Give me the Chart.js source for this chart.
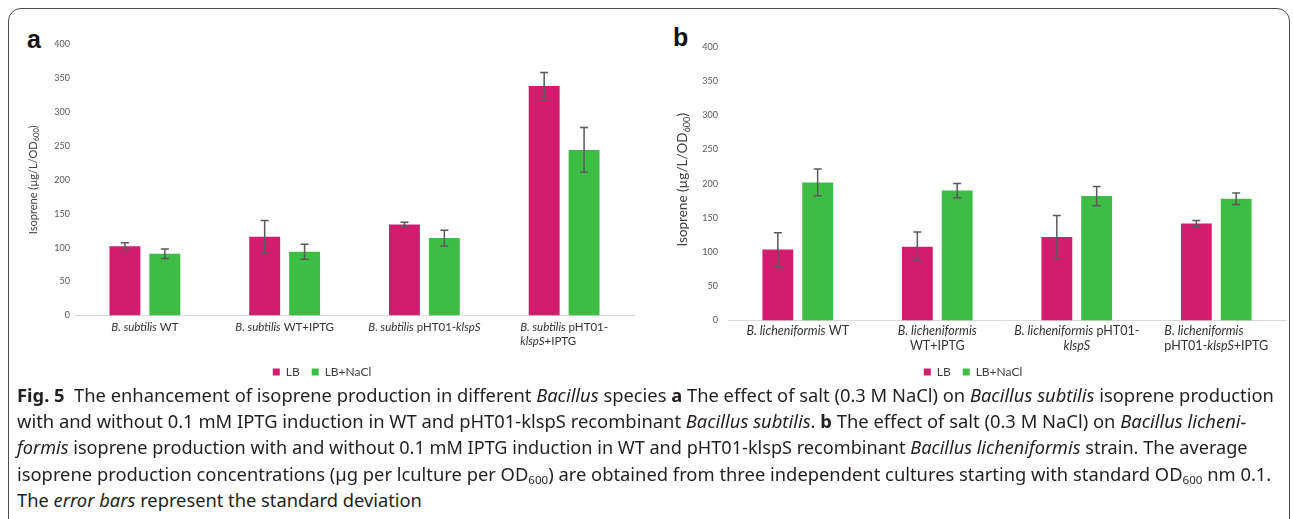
<!DOCTYPE html>
<html>
<head>
<meta charset="utf-8">
<script src="https://cdn.jsdelivr.net/npm/chart.js@4.4.1/dist/chart.umd.min.js"></script>
<style>
  html, body { margin: 0; padding: 0; background: #fff; }
  body { width: 1293px; height: 519px; position: relative; overflow: hidden; font-family: "Noto Sans", sans-serif; }
  .frame { position: absolute; left: 8px; top: 8px; width: 1282px; height: 540px; border: 1.5px solid #4a4a4a; border-radius: 13px; box-sizing: border-box; }
  .panel-letter { position: absolute; font-family: "Liberation Sans", Arial, sans-serif; font-weight: bold; font-size: 25px; color: #111; line-height: 1; }
  .chart-box { position: absolute; }
  .cap { position: absolute; left: 17px; white-space: nowrap; font-size: 17.5px; line-height: 22px; color: #231f20; transform-origin: 0 50%; }
  .cap i { font-style: italic; }
  .cap b { font-weight: bold; }
  .cap sub { font-size: 11px; vertical-align: -3px; line-height: 0; }
</style>
</head>
<body>
<div class="frame"></div>
<div class="panel-letter" style="left:27px; top:27px;">a</div>
<div class="panel-letter" style="left:673px; top:25px;">b</div>

<div class="chart-box" style="left:10px; top:20px; width:632px; height:368px;"><canvas id="chartA" width="632" height="368"></canvas></div>
<div class="chart-box" style="left:660px; top:20px; width:630px; height:368px;"><canvas id="chartB" width="630" height="368"></canvas></div>

<div class="cap" data-w="1257" style="top:384px;"><b>Fig. 5</b>&nbsp; The enhancement of isoprene production in different <i>Bacillus</i> species <b>a</b> The effect of salt (0.3 M NaCl) on <i>Bacillus subtilis</i> isoprene production</div>
<div class="cap" data-w="1229" style="top:410px;">with and without 0.1 mM IPTG induction in WT and pHT01-klspS recombinant <i>Bacillus subtilis</i>. <b>b</b> The effect of salt (0.3 M NaCl) on <i>Bacillus licheni-</i></div>
<div class="cap" data-w="1231" style="top:436px;"><i>formis</i> isoprene production with and without 0.1 mM IPTG induction in WT and pHT01-klspS recombinant <i>Bacillus licheniformis</i> strain. The average</div>
<div class="cap" data-w="1254" style="top:463px;">isoprene production concentrations (µg per lculture per OD<sub>600</sub>) are obtained from three independent cultures starting with standard OD<sub>600</sub> nm 0.1.</div>
<div class="cap" style="top:489px;">The <i>error bars</i> represent the standard deviation</div>

<script>
// ---- data ----
const seriesNames = ["LB", "LB+NaCl"];
const yTickValues = [0, 50, 100, 150, 200, 250, 300, 350, 400];
const yTitleText = "Isoprene (µg/L/OD";
const yTitleSub = "600";

// Panel a: B. subtilis ("*...*" = italic, "|" = line break)
const categoriesA = ["*B. subtilis* WT", "*B. subtilis* WT+IPTG", "*B. subtilis* pHT01-*klspS*", "*B. subtilis* pHT01-|*klspS*+IPTG"];
const lbA = [102, 116, 134, 338];
const lbErrA = [5, 24, 3.5, 20];
const naclA = [91, 94, 114, 244];
const naclErrA = [7, 11, 11.5, 33];

// Panel b: B. licheniformis
const categoriesB = ["*B. licheniformis* WT", "*B. licheniformis*|WT+IPTG", "*B. licheniformis* pHT01-|*klspS*", "*B. licheniformis*|pHT01-*klspS*+IPTG"];
const lbB = [104, 108, 122, 142];
const lbErrB = [24.5, 21.5, 31.5, 4.3];
const naclB = [202, 190, 182, 178];
const naclErrB = [19.5, 10.5, 14, 8.5];

// ---- styling ----
const LB_COLOR = "#d11d6b";
const NACL_COLOR = "#3ebd46";
const FONT = "Lato, 'Noto Sans', sans-serif";

function parseRich(str) {
  return str.split("|").map(line => {
    const segs = [];
    line.split("*").forEach((t, i) => { if (t) segs.push({ t, it: i % 2 === 1 }); });
    return segs;
  });
}
function plain(str) { return str.replace(/\*/g, "").replace("|", " "); }
function fontStr(italic, size) { return (italic ? "italic " : "") + size + "px " + FONT; }

// category labels with mixed italic/roman runs
const richLabels = {
  id: "richLabels",
  afterDraw(chart, args, o) {
    const ctx = chart.ctx, xs = chart.scales.x;
    ctx.save();
    ctx.fillStyle = o.color;
    ctx.textBaseline = "middle";
    ctx.textAlign = "left";
    o.labels.forEach((lab, i) => {
      const lines = parseRich(lab);
      const cx = xs.getPixelForValue(i);
      const widths = lines.map(l => l.reduce((w, s) => { ctx.font = fontStr(s.it, o.size); return w + ctx.measureText(s.t).width; }, 0));
      const blockW = Math.max(...widths);
      lines.forEach((l, j) => {
        let x = o.leftAligned.includes(i) ? cx - blockW / 2 : cx - widths[j] / 2;
        const y = chart.chartArea.bottom + o.offset + j * o.lineHeight;
        l.forEach(s => { ctx.font = fontStr(s.it, o.size); ctx.fillText(s.t, x, y); x += ctx.measureText(s.t).width; });
      });
    });
    ctx.restore();
  }
};

// rotated y-axis title with subscript
const yTitle = {
  id: "yTitle",
  afterDraw(chart, args, o) {
    const ctx = chart.ctx, ca = chart.chartArea;
    const subSize = o.size * 0.68;
    ctx.save();
    ctx.fillStyle = o.color;
    ctx.textBaseline = "middle";
    ctx.textAlign = "left";
    ctx.font = o.size + "px " + FONT;
    const w1 = ctx.measureText(yTitleText).width;
    const w3 = ctx.measureText(")").width;
    ctx.font = subSize + "px " + FONT;
    const w2 = ctx.measureText(yTitleSub).width;
    const total = w1 + w2 + w3;
    ctx.translate(o.x, (ca.top + ca.bottom) / 2 + o.dy);
    ctx.rotate(-Math.PI / 2);
    let x = -total / 2;
    ctx.font = o.size + "px " + FONT;
    ctx.fillText(yTitleText, x, 0); x += w1;
    ctx.font = subSize + "px " + FONT;
    ctx.fillText(yTitleSub, x, o.size * 0.3); x += w2;
    ctx.font = o.size + "px " + FONT;
    ctx.fillText(")", x, 0);
    ctx.restore();
  }
};

// standard deviation whiskers
const errorBars = {
  id: "errorBars",
  afterDatasetsDraw(chart) {
    const ctx = chart.ctx, ys = chart.scales.y;
    ctx.save();
    ctx.strokeStyle = "#5a5a5a";
    ctx.lineWidth = 1.5;
    chart.data.datasets.forEach((ds, d) => {
      chart.getDatasetMeta(d).data.forEach((bar, i) => {
        const v = ds.data[i], e = ds.errors[i];
        const yT = ys.getPixelForValue(v + e), yB = ys.getPixelForValue(v - e);
        ctx.beginPath();
        ctx.moveTo(bar.x, yT); ctx.lineTo(bar.x, yB);
        ctx.moveTo(bar.x - 4, yT); ctx.lineTo(bar.x + 4, yT);
        ctx.moveTo(bar.x - 4, yB); ctx.lineTo(bar.x + 4, yB);
        ctx.stroke();
      });
    });
    ctx.restore();
  }
};

function makeChart(id, cfg) {
  return new Chart(document.getElementById(id), {
    type: "bar",
    data: {
      labels: cfg.categories.map(plain),
      datasets: [
        { label: seriesNames[0], data: cfg.lb, errors: cfg.lbErr, backgroundColor: LB_COLOR, categoryPercentage: 0.571, barPercentage: 0.775 },
        { label: seriesNames[1], data: cfg.nacl, errors: cfg.naclErr, backgroundColor: NACL_COLOR, categoryPercentage: 0.571, barPercentage: 0.775 }
      ]
    },
    plugins: [errorBars, richLabels, yTitle],
    options: {
      responsive: false,
      animation: false,
      devicePixelRatio: 1,
      layout: { padding: { top: cfg.padTop, right: cfg.padRight, left: 0, bottom: 0 } },
      plugins: {
        tooltip: { enabled: false },
        legend: {
          position: "bottom",
          labels: { boxWidth: 7, boxHeight: 7, padding: 12, color: "#404040", font: { family: FONT, size: 12 } }
        },
        richLabels: { labels: cfg.categories, size: cfg.labelSize, offset: cfg.labelOffset, lineHeight: cfg.labelLine, color: "#333", leftAligned: [3] },
        yTitle: { x: cfg.titleX, dy: cfg.titleDy, size: cfg.titleSize, color: "#404040" }
      },
      scales: {
        x: {
          grid: { display: false, drawTicks: false },
          border: { display: true, color: "#d9d9d9", width: 1 },
          ticks: { display: false },
          afterFit(s) { s.height = cfg.xHeight; }
        },
        y: {
          min: 0, max: 400,
          afterBuildTicks(s) { s.ticks = yTickValues.map(v => ({ value: v })); },
          ticks: { color: "#595959", padding: cfg.tickPad, font: { family: FONT, size: 9 } },
          grid: { display: false, drawTicks: false },
          border: { display: false },
          afterFit(s) { s.width = cfg.yWidth; }
        }
      }
    }
  });
}

makeChart("chartA", {
  categories: categoriesA, lb: lbA, lbErr: lbErrA, nacl: naclA, naclErr: naclErrA,
  padTop: 24, padRight: 8, xHeight: 38.5, yWidth: 65, tickPad: 5,
  labelSize: 11.5, labelOffset: 12, labelLine: 14,
  titleX: 23, titleDy: 0, titleSize: 11
});
makeChart("chartB", {
  categories: categoriesB, lb: lbB, lbErr: lbErrB, nacl: naclB, naclErr: naclErrB,
  padTop: 27, padRight: 4, xHeight: 33.5, yWidth: 68, tickPad: 10,
  labelSize: 12.5, labelOffset: 10, labelLine: 15,
  titleX: 23, titleDy: -4, titleSize: 13.5
});

// fit each caption line to its column width
(function fitCaption() {
  const lines = Array.from(document.querySelectorAll(".cap"));
  let sum = 0, n = 0;
  lines.forEach(el => {
    const target = +el.dataset.w;
    if (!target) return;
    const k = target / el.scrollWidth;
    el.style.transform = "scaleX(" + k + ")";
    sum += k; n++;
  });
  const avg = n ? sum / n : 1;
  lines.forEach(el => { if (!el.dataset.w) el.style.transform = "scaleX(" + avg + ")"; });
})();
</script>
</body>
</html>
